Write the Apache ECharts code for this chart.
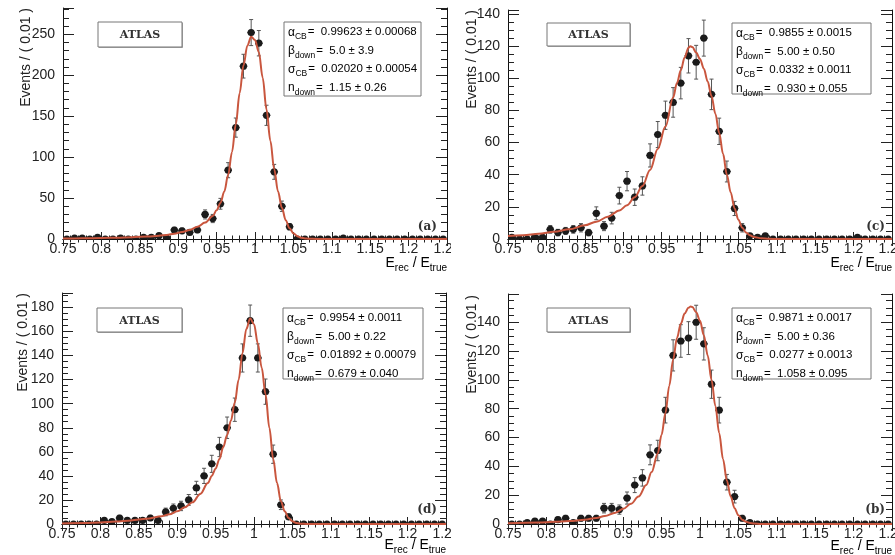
<!DOCTYPE html>
<html><head><meta charset="utf-8">
<script src="https://cdn.jsdelivr.net/npm/echarts@6/dist/echarts.min.js"></script>
<style>
html,body{margin:0;padding:0;background:#fff;width:895px;height:555px;overflow:hidden}
.p{position:absolute;overflow:hidden;background:#fff}
</style></head><body>
<div id="pa" class="p" style="left:0;top:0;width:451px;height:280px"></div>
<div id="pc" class="p" style="left:451px;top:0;width:444px;height:280px"></div>
<div id="pd" class="p" style="left:0;top:280px;width:451px;height:275px"></div>
<div id="pb" class="p" style="left:451px;top:280px;width:444px;height:275px"></div>
<script>
// ---------------- data ----------------
const binCenters = [0.755,0.765,0.775,0.785,0.795,0.805,0.815,0.825,0.835,0.845,
  0.855,0.865,0.875,0.885,0.895,0.905,0.915,0.925,0.935,0.945,
  0.955,0.965,0.975,0.985,0.995,1.005,1.015,1.025,1.035,1.045,
  1.055,1.065,1.075,1.085,1.095,1.105,1.115,1.125,1.135,1.145,
  1.155,1.165,1.175,1.185,1.195,1.205,1.215,1.225,1.235,1.245];

const countsA = [0,1,1,0,2,0,0,1,0,0, 2,2,4,1,11,10,8,11,30,25, 43,84,136,211,252,239,151,82,40,15, 0,0,0,0,0,0,1,0,0,0, 0,0,0,0,0,0,0,0,0,0];
const errA    = [1.15,1,1,1.15,1.4,1.15,1.15,1,1.15,1.15, 1.4,1.4,2,1,3.3,3.2,2.8,3.3,5.5,5, 6.6,9.2,11.7,14.5,15.9,15.5,12.3,9.1,6.3,3.9, 1.15,1.15,1.15,1.15,1.15,1.15,1,1.15,1.15,1.15, 1.15,1.15,1.15,1.15,1.15,1.15,1.15,1.15,1.15,1.15];

const countsC = [1,0,0,1,1,6,4,5,6,7, 4,16,8,13,27,36,26,33,52,65, 77,85,97,114,110,125,90,67,42,19, 7,2,1,2,0,0,0,0,0,0, 0,0,0,0,0,1,0,0,0,0];
const errC    = [1,1.15,1.15,1,1,2.4,2,2.2,2.4,2.6, 2,4,2.8,3.6,5.2,6,5.1,5.7,7.2,8.1, 8.8,9.2,9.8,10.7,10.5,11.2,9.5,8.2,6.5,4.4, 2.6,1.4,1,1.4,1.15,1.15,1.15,1.15,1.15,1.15, 1.15,1.15,1.15,1.15,1.15,1,1.15,1.15,1.15,1.15];

const countsD = [0,0,0,0,0,3,2,5,3,3, 3,5,3,10,13,15,20,30,40,50, 64,80,95,138,169,138,110,58,16,6, 0,0,0,0,0,0,0,0,0,0, 0,0,0,0,0,0,0,0,0,0];
const errD    = [1.15,1.15,1.15,1.15,1.15,1.7,1.4,2.2,1.7,1.7, 1.7,2.2,1.7,3.2,3.6,3.9,4.5,5.5,6.3,7.1, 8,8.9,9.7,11.7,13,11.7,10.5,7.6,4,2.4, 1.15,1.15,1.15,1.15,1.15,1.15,1.15,1.15,1.15,1.15, 1.15,1.15,1.15,1.15,1.15,1.15,1.15,1.15,1.15,1.15];

const countsB = [0,0,1,2,2,0,3,4,1,4, 4,4,11,11,10,18,27,32,48,51, 79,117,127,129,140,125,97,79,29,19, 4,1,0,0,0,0,0,0,0,0, 0,0,0,0,0,0,0,0,0,0];
const errB    = [1.15,1.15,1,1.4,1.4,1.15,1.7,2,1,2, 2,2,3.3,3.3,3.2,4.2,5.2,5.7,6.9,7.1, 8.9,10.8,11.3,11.4,11.8,11.2,9.8,8.9,5.4,4.4, 2,1,1.15,1.15,1.15,1.15,1.15,1.15,1.15,1.15, 1.15,1.15,1.15,1.15,1.15,1.15,1.15,1.15,1.15,1.15];

const curveA = [[0.75,0.6],[0.775,0.8],[0.8,1.2],[0.82,1.6],[0.84,2.2],[0.86,3],[0.875,4],[0.885,5],[0.895,6.5],[0.905,8.5],[0.915,11],[0.925,15],[0.935,20],[0.945,28],[0.95,35],[0.955,44],[0.96,58],[0.965,78],[0.97,106],[0.975,140],[0.98,178],[0.985,212],[0.99,236],[0.995,247],[1.0,243],[1.005,228],[1.01,197],[1.015,158],[1.02,120],[1.025,85],[1.03,58],[1.035,38],[1.04,23],[1.045,13],[1.05,7],[1.055,3.5],[1.06,1.6],[1.065,0.7],[1.07,0.3],[1.08,0.05],[1.1,0],[1.25,0]];
const curveC = [[0.75,1.8],[0.77,2.4],[0.79,3.3],[0.81,4.5],[0.83,6],[0.85,8.5],[0.865,10.8],[0.88,13.8],[0.895,17.8],[0.905,21],[0.915,26],[0.925,33],[0.935,43],[0.945,56],[0.955,70],[0.965,88],[0.97,97],[0.975,105],[0.98,113],[0.985,119],[0.9875,120],[0.99,119.5],[0.995,116],[1.0,112],[1.005,106],[1.01,98],[1.015,89],[1.02,78],[1.025,66],[1.03,53],[1.035,40],[1.04,29],[1.045,19],[1.05,12],[1.055,7],[1.06,4],[1.065,2.3],[1.07,1.3],[1.08,0.4],[1.09,0.1],[1.1,0],[1.25,0]];
const curveD = [[0.75,0.5],[0.78,0.9],[0.8,1.3],[0.82,2],[0.84,3],[0.86,4.3],[0.88,6.5],[0.89,8.2],[0.9,10.5],[0.91,14],[0.92,18],[0.93,25],[0.94,34],[0.945,40],[0.95,46],[0.955,54],[0.96,64],[0.965,74],[0.97,86],[0.975,101],[0.98,120],[0.985,142],[0.99,162],[0.995,171],[1.0,166],[1.005,150],[1.01,130],[1.015,108],[1.02,80],[1.025,54],[1.03,34],[1.035,19],[1.04,10.5],[1.045,5],[1.05,2.2],[1.055,0.9],[1.06,0.3],[1.07,0],[1.25,0]];
const curveB = [[0.75,0.6],[0.79,1],[0.81,1.5],[0.83,2],[0.85,3],[0.865,4.2],[0.876,5.5],[0.89,7.8],[0.9,10.5],[0.91,14],[0.92,19],[0.93,27],[0.937,36],[0.945,49],[0.95,62],[0.955,77],[0.96,96],[0.965,114],[0.97,129],[0.975,139],[0.98,146],[0.985,150],[0.988,151],[0.99,150.5],[0.995,147],[1.0,141],[1.005,131],[1.01,117],[1.015,100],[1.02,82],[1.025,63],[1.03,45],[1.035,30],[1.04,19],[1.045,11],[1.05,6],[1.055,3],[1.06,1.5],[1.065,0.7],[1.07,0.3],[1.08,0],[1.25,0]];

const xRange = [0.75, 1.25];
const xStep = 0.05;
const yMaxes = {a: 282, c: 142.5, d: 192, b: 159.6};
const ySteps = {a: 50, c: 20, d: 20, b: 20};
const yMinorSplits = {a: 5, c: 4, d: 4, b: 4};

const paramsA = ['0.99623 ± 0.00068', '5.0 ± 3.9', '0.02020 ± 0.00054', '1.15 ± 0.26'];
const paramsC = ['0.9855 ± 0.0015', '5.00 ± 0.50', '0.0332 ± 0.0011', '0.930 ± 0.055'];
const paramsD = ['0.9954 ± 0.0011', '5.00 ± 0.22', '0.01892 ± 0.00079', '0.679 ± 0.040'];
const paramsB = ['0.9871 ± 0.0017', '5.00 ± 0.36', '0.0277 ± 0.0013', '1.058 ± 0.095'];
const paramSymbols = [['α','CB'], ['β','down'], ['σ','CB'], ['n','down']];

const yTitle = 'Events / ( 0.01 )';
const atlasText = 'ATLAS';

// ---------------- drawing ----------------
const SANS = 'Liberation Sans, Arial, Helvetica, sans-serif';
const SERIF = 'DejaVu Serif, Liberation Serif, serif';
const HALF_BIN = 0.005;
const CURVE_COLOR = '#c9563e';

function errItem(params, api) {
  const x = api.value(0), y = api.value(1), e = api.value(2);
  const c = api.coord([x, y]);
  const t = api.coord([x, y + e]);
  const b = api.coord([x, Math.max(0, y - e)]);
  const l = api.coord([x - HALF_BIN, y]);
  const r = api.coord([x + HALF_BIN, y]);
  const cap = 2;
  const st = {stroke: '#555', lineWidth: 1};
  return {type: 'group', children: [
    {type: 'line', shape: {x1: c[0], y1: t[1], x2: c[0], y2: b[1]}, style: st},
    {type: 'line', shape: {x1: c[0] - cap, y1: t[1], x2: c[0] + cap, y2: t[1]}, style: st},
    {type: 'line', shape: {x1: c[0] - cap, y1: b[1], x2: c[0] + cap, y2: b[1]}, style: st},
    {type: 'line', shape: {x1: l[0], y1: c[1], x2: r[0], y2: c[1]}, style: {stroke: '#222', lineWidth: 1.4}},
    {type: 'circle', shape: {cx: c[0], cy: c[1], r: 3.6}, style: {fill: '#1b1b1b'}}
  ]};
}

function makePanel(elId, key, counts, errs, curve, params, L) {
  const chart = echarts.init(document.getElementById(elId), null, {renderer: 'canvas'});
  const pts = binCenters.map((x, i) => [x, counts[i], errs[i]]);
  const axisCommon = {
    axisLine: {lineStyle: {color: '#111', width: 1}},
    splitLine: {show: false}
  };
  const xAx = (pos, labels) => Object.assign({
    type: 'value', position: pos, min: xRange[0], max: xRange[1], interval: xStep,
    axisTick: {inside: true, length: 7, lineStyle: {color: '#222'}},
    minorTick: {show: true, splitNumber: 5, length: 3.5, lineStyle: {color: '#222'}},
    axisLabel: labels ? {show: true, fontFamily: SANS, fontSize: 14, color: '#222', margin: 3,
      showMinLabel: true, showMaxLabel: true, hideOverlap: false} : {show: false}
  }, axisCommon);
  const yAx = (pos, labels) => Object.assign({
    type: 'value', position: pos, min: 0, max: yMaxes[key], interval: ySteps[key],
    axisTick: {inside: true, length: 11, lineStyle: {color: '#222'}},
    minorTick: {show: true, splitNumber: yMinorSplits[key], length: 6, lineStyle: {color: '#222'}},
    axisLabel: labels ? {show: true, fontFamily: SANS, fontSize: 14, color: '#222', margin: 8,
      showMaxLabel: false} : {show: false}
  }, axisCommon);

  const paramRich = {
    g: {fontFamily: SANS, fontSize: 12, color: '#222', lineHeight: 18.5, verticalAlign: 'middle'},
    s: {fontFamily: SANS, fontSize: 8.5, color: '#222', lineHeight: 18.5, verticalAlign: 'bottom', padding: [0, 1, 0, 0]},
    t: {fontFamily: SANS, fontSize: 11.5, color: '#222', lineHeight: 18.5, verticalAlign: 'middle'}
  };
  const paramStr = params.map((v, i) => `{g|${paramSymbols[i][0]}}{s|${paramSymbols[i][1]}}{t|=  ${v}}`).join('\n');

  const graphic = [
    {type: 'text', x: L.yt[0], y: L.yt[1], rotation: Math.PI / 2,
      style: {text: yTitle, fontFamily: SANS, fontSize: 14, fill: '#222', align: 'right', verticalAlign: 'middle'}},
    {type: 'text', x: L.xt[0], y: L.xt[1],
      style: {text: '{m|E}{s|rec}{m| / E}{s|true}', align: 'right', verticalAlign: 'middle',
        rich: {m: {fontFamily: SANS, fontSize: 14, color: '#222', lineHeight: 20, verticalAlign: 'middle'},
               s: {fontFamily: SANS, fontSize: 10, color: '#222', lineHeight: 20, verticalAlign: 'bottom'}}}},
    {type: 'rect', shape: {x: L.atlas[0] + 1, y: L.atlas[1] + 1, width: L.atlas[2], height: L.atlas[3]},
      style: {fill: '#aaa', stroke: null}},
    {type: 'rect', shape: {x: L.atlas[0], y: L.atlas[1], width: L.atlas[2], height: L.atlas[3]},
      style: {fill: '#fff', stroke: '#777', lineWidth: 1}},
    {type: 'text', x: L.atlas[0] + L.atlas[2] / 2, y: L.atlas[1] + L.atlas[3] / 2 + 1,
      style: {text: atlasText, fontFamily: SERIF, fontWeight: 'bold', fontSize: 11, fill: '#333', align: 'center', verticalAlign: 'middle'}},
    {type: 'rect', shape: {x: L.pb[0], y: L.pb[1], width: L.pb[2], height: L.pb[3]},
      style: {fill: '#fff', stroke: '#777', lineWidth: 1}},
    {type: 'text', x: L.pb[0] + 4, y: L.pb[1] + 1,
      style: {text: paramStr, rich: paramRich, align: 'left', verticalAlign: 'top'}},
    {type: 'text', x: L.lab[0], y: L.lab[1],
      style: {text: '(' + key + ')', fontFamily: SERIF, fontWeight: 'bold', fontSize: 12, fill: '#333', align: 'right', verticalAlign: 'middle'}}
  ];

  chart.setOption({
    animation: false,
    backgroundColor: '#fff',
    grid: {left: L.grid[0], top: L.grid[1], width: L.grid[2], height: L.grid[3],
      containLabel: false, outerBoundsMode: 'none'},
    xAxis: [xAx('bottom', true), xAx('top', false)],
    yAxis: [yAx('left', true), yAx('right', false)],
    series: [
      {type: 'custom', xAxisIndex: 0, yAxisIndex: 0, renderItem: errItem, data: pts, z: 2, clip: true},
      {type: 'line', xAxisIndex: 0, yAxisIndex: 0, data: curve, smooth: 0.35, smoothMonotone: 'x',
        showSymbol: false, symbol: 'none', lineStyle: {color: CURVE_COLOR, width: 2}, z: 3, clip: true}
    ],
    graphic: graphic
  });
}

makePanel('pa', 'a', countsA, errA, curveA, paramsA, {
  grid: [63, 8, 384, 231], yt: [26, 8], xt: [447, 263],
  atlas: [98, 22, 84, 25], pb: [284, 22, 137, 74], lab: [437, 227]});
makePanel('pc', 'c', countsC, errC, curveC, paramsC, {
  grid: [57, 10, 384, 229], yt: [21, 10], xt: [441, 263],
  atlas: [96, 23, 83, 23], pb: [281, 23, 139, 71], lab: [434, 227]});
makePanel('pd', 'd', countsD, errD, curveD, paramsD, {
  grid: [62, 13, 384, 231], yt: [23, 13], xt: [446, 265],
  atlas: [97, 28, 85, 24], pb: [283, 28, 140, 71], lab: [437, 230]});
makePanel('pb', 'b', countsB, errB, curveB, paramsB, {
  grid: [57, 14, 384, 230], yt: [21, 15], xt: [441, 266],
  atlas: [96, 28, 83, 24], pb: [281, 28, 139, 71], lab: [434, 230]});
</script>
</body></html>
